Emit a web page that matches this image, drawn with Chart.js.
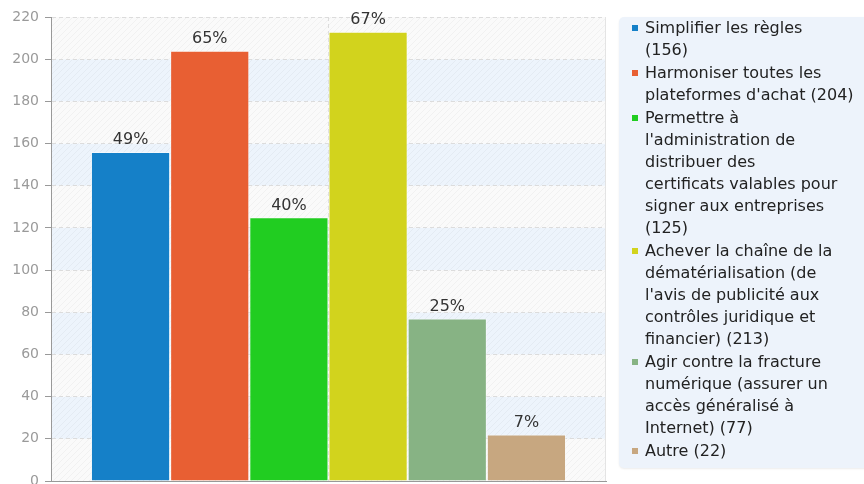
<!DOCTYPE html>
<html>
<head>
<meta charset="utf-8">
<script src="https://cdn.jsdelivr.net/npm/chart.js@4"></script>
<style>
  html, body { margin: 0; padding: 0; background: #fff; overflow: hidden; }
  #wrap { position: relative; width: 864px; height: 484px; }
  #legend {
    position: absolute; left: 619px; top: 17px; width: 260px; height: 451px;
    background: #edf3fb; border-radius: 5px; box-sizing: border-box; padding-top: 0;
    box-shadow: 0 1px 2px rgba(0,0,0,0.08);
    font-family: "DejaVu Sans", sans-serif; font-size: 16px; line-height: 22px; color: #222;
  }
  .item { position: relative; padding-left: 26px; margin-bottom: 1px; white-space: pre-line; }
  .mark { position: absolute; left: 13px; top: 8px; width: 6px; height: 6px; }
</style>
</head>
<body>
<div id="wrap">
  <canvas id="chart" width="864" height="484"></canvas>
  <div id="legend"></div>
</div>
<script>
// libellés (avec retours à la ligne comme dans la légende)
const categories = [
    'Simplifier les règles\n',
    'Harmoniser toutes les\nplateformes d\'achat',
    'Permettre à\nl\'administration de\ndistribuer des\ncertificats valables pour\nsigner aux entreprises\n',
    'Achever la chaîne de la\ndématérialisation (de\nl\'avis de publicité aux\ncontrôles juridique et\nfinancier)',
    'Agir contre la fracture\nnumérique (assurer un\naccès généralisé à\nInternet)',
    'Autre'
];
const values = [156, 204, 125, 213, 77, 22];
const percents = [49, 65, 40, 67, 25, 7];
const colors = ['#1580c8', '#e85f33', '#21cd21', '#d2d31d', '#87b384', '#c7a780'];
const yTicks = [0, 20, 40, 60, 80, 100, 120, 140, 160, 180, 200, 220];

// motif hachuré du fond
function makeHatch() {
    const c = document.createElement('canvas');
    c.width = 6; c.height = 6;
    const x = c.getContext('2d');
    x.strokeStyle = 'rgba(0,0,0,0.035)';
    x.lineWidth = 1;
    x.beginPath();
    x.moveTo(0, 6); x.lineTo(6, 0);
    x.moveTo(-1, 1); x.lineTo(1, -1);
    x.moveTo(5, 7); x.lineTo(7, 5);
    x.stroke();
    return x.createPattern(c, 'repeat');
}

const bandsPlugin = {
    id: 'bands',
    beforeDraw(chart) {
        const { ctx, chartArea: a, scales: { y } } = chart;
        ctx.save();
        for (let i = 0; i < yTicks.length - 1; i++) {
            const top = y.getPixelForValue(yTicks[i + 1]);
            const bot = y.getPixelForValue(yTicks[i]);
            ctx.fillStyle = i % 2 ? '#edf4fc' : '#fafafa';
            ctx.fillRect(a.left, top, a.right - a.left, bot - top);
        }
        ctx.fillStyle = makeHatch();
        ctx.fillRect(a.left, a.top, a.right - a.left, a.bottom - a.top);
        ctx.restore();
    },
    afterDraw(chart) {
        const { ctx, chartArea: a } = chart;
        ctx.save();
        ctx.strokeStyle = '#e4e4e4';
        ctx.beginPath();
        ctx.moveTo(a.right - 0.5, a.top);
        ctx.lineTo(a.right - 0.5, a.bottom);
        ctx.stroke();
        // pourcentages au-dessus des barres
        ctx.font = '16px "DejaVu Sans"';
        ctx.fillStyle = '#333';
        ctx.textAlign = 'center';
        ctx.textBaseline = 'bottom';
        chart.data.datasets.forEach((ds, i) => {
            const bar = chart.getDatasetMeta(i).data[0];
            ctx.fillText(percents[i] + '%', bar.x, bar.y - 4);
        });
        ctx.restore();
    }
};

const datasets = categories.map((name, i) => ({
    label: name,
    data: [values[i]],
    backgroundColor: colors[i],
    borderColor: 'rgba(255,255,255,0.45)',
    borderWidth: 1,
    categoryPercentage: 0.856,
    barPercentage: 1
}));

new Chart(document.getElementById('chart').getContext('2d'), {
    type: 'bar',
    data: { labels: [''], datasets: datasets },
    plugins: [bandsPlugin],
    options: {
        responsive: false,
        animation: false,
        layout: { padding: { left: 0, top: 17, right: 258, bottom: 3 } },
        plugins: { legend: { display: false }, tooltip: { enabled: false } },
        scales: {
            x: {
                ticks: { display: false },
                grid: { offset: false, drawTicks: false, color: '#dcdcdc' },
                border: { color: '#999', dash: [4, 3] }
            },
            y: {
                min: 0,
                max: 220,
                ticks: {
                    stepSize: 20,
                    padding: 6,
                    color: '#9a9a9a',
                    font: { family: 'DejaVu Sans', size: 14 }
                },
                grid: { color: '#dcdcdc', tickLength: 6, tickColor: '#999' },
                border: { color: '#999', dash: [4, 3] },
                afterFit(s) { s.width = 51; s.paddingTop = 0; s.paddingBottom = 0; }
            }
        }
    }
});

// légende HTML
const legend = document.getElementById('legend');
categories.forEach((name, i) => {
    const item = document.createElement('div');
    item.className = 'item';
    item.textContent = name + (name.endsWith('\n') ? '' : ' ') + '(' + values[i] + ')';
    const mark = document.createElement('span');
    mark.className = 'mark';
    mark.style.background = colors[i];
    item.appendChild(mark);
    legend.appendChild(item);
});
</script>
</body>
</html>
